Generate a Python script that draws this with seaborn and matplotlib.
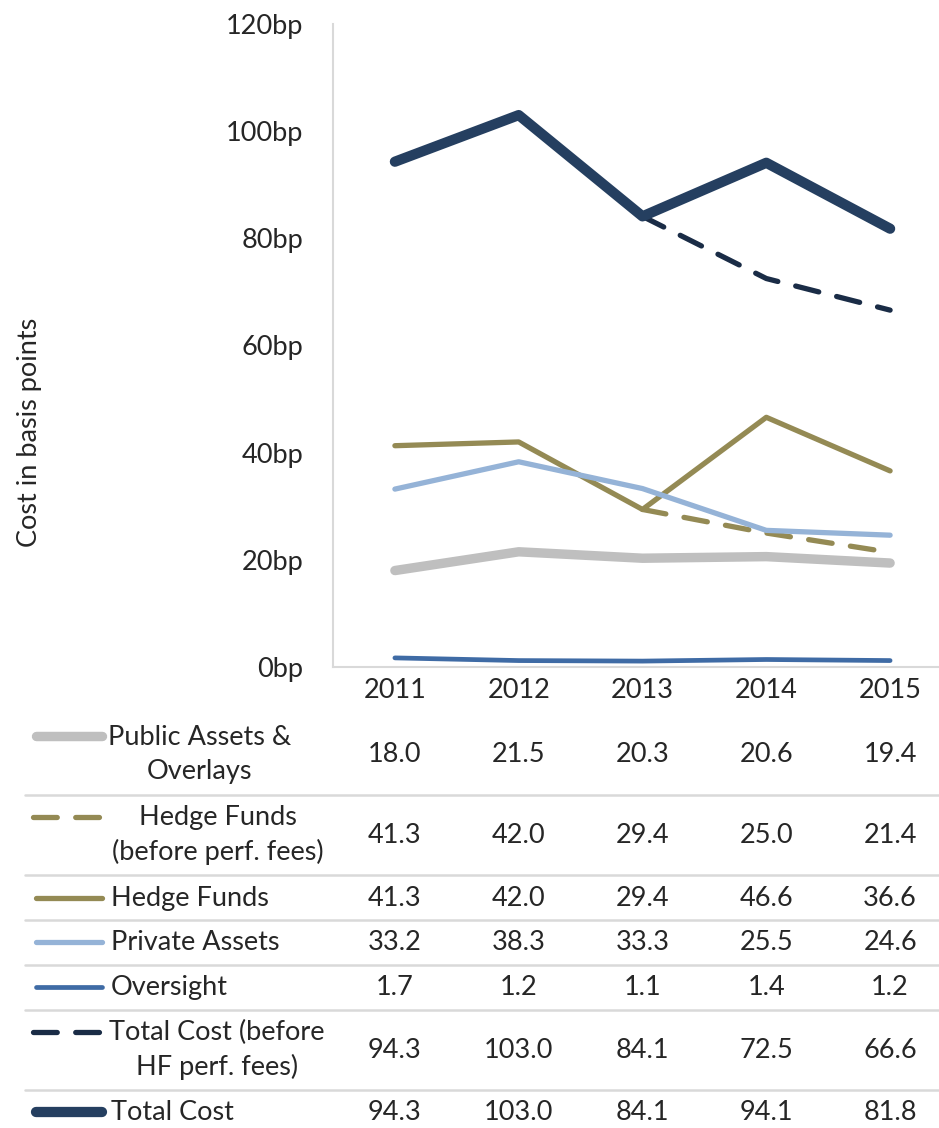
import numpy as np
import pandas as pd
import matplotlib
matplotlib.use("Agg")
import matplotlib.pyplot as plt
import matplotlib.transforms as mtransforms
import seaborn as sns

# data
years = [2011, 2012, 2013, 2014, 2015]
public_assets = [18.0, 21.5, 20.3, 20.6, 19.4]
hedge_before = [41.3, 42.0, 29.4, 25.0, 21.4]
hedge_funds = [41.3, 42.0, 29.4, 46.6, 36.6]
private_assets = [33.2, 38.3, 33.3, 25.5, 24.6]
oversight = [1.7, 1.2, 1.1, 1.4, 1.2]
total_before = [94.3, 103.0, 84.1, 72.5, 66.6]
total_cost = [94.3, 103.0, 84.1, 94.1, 81.8]

yticks = [0, 20, 40, 60, 80, 100, 120]

sns.set_style("white")
plt.rcParams["font.family"] = ["Lato", "DejaVu Sans"]
FS = 19.5

# series: name, values, color, width (pt), dashed, table label, label x, ha
series = [
    ("Public Assets & Overlays", public_assets, "#BFBFBF", 6.8, False, "Public Assets &\nOverlays", 200, "center"),
    ("Hedge Funds (before perf. fees)", hedge_before, "#948A54", 3.8, True, "Hedge Funds\n(before perf. fees)", 218, "center"),
    ("Hedge Funds", hedge_funds, "#948A54", 3.8, False, "Hedge Funds", 111, "left"),
    ("Private Assets", private_assets, "#95B3D7", 3.8, False, "Private Assets", 111, "left"),
    ("Oversight", oversight, "#3F6BA5", 3.4, False, "Oversight", 111, "left"),
    ("Total Cost (before HF perf. fees)", total_before, "#1A2C46", 3.8, True, "Total Cost (before\nHF perf. fees)", 217, "center"),
    ("Total Cost", total_cost, "#253F60", 7.4, False, "Total Cost", 111, "left"),
]

W, H = 939, 1128
fig = plt.figure(figsize=(W / 100, H / 100), dpi=100)
ax = fig.add_axes([333 / W, 461 / H, 619 / W, 643 / H])

for name, vals, color, lw, dashed, _, _, _ in series:
    df = pd.DataFrame({"year": years, "cost": vals})
    if dashed:
        # dashed series only differ from 2013 on
        df = df[df["year"] >= 2013]
        sns.lineplot(data=df, x="year", y="cost", ax=ax, color=color, linewidth=lw,
                     dashes=False, linestyle=(0, (4.5, 3.5)), dash_capstyle="round")
    else:
        sns.lineplot(data=df, x="year", y="cost", ax=ax, color=color, linewidth=lw,
                     solid_capstyle="round", solid_joinstyle="round")

ax.set_xlim(2010.5, 2015.5)
ax.set_ylim(0, 120)
ax.set_xticks(years)
ax.set_xticklabels([str(y) for y in years])
ax.set_yticks(yticks)
ax.set_yticklabels([f"{t}bp" for t in yticks])
ax.set_xlabel("")
ax.set_ylabel("")
sns.despine(ax=ax)
for s in ["left", "bottom"]:
    ax.spines[s].set_color("#D9D9D9")
    ax.spines[s].set_linewidth(1.5)
ax.tick_params(axis="y", length=6.5, width=1.5, color="#D9D9D9", pad=15, labelsize=FS)
ax.tick_params(axis="x", length=0, pad=8, labelsize=FS)

fig.text(30 / W, 1 - 432 / H, "Cost in basis points", rotation=90, ha="center", va="center", fontsize=FS)

# data table below the chart
tab = fig.add_axes([0, 0, 1, 428 / H])
tab.set_xlim(0, W)
tab.set_ylim(H, 700)
tab.axis("off")
blend = mtransforms.blended_transform_factory(ax.transData, tab.transData)

row_y = [754, 835, 898, 942, 987, 1050, 1112]
key_y = [736, 817, 898, 942, 987, 1032, 1112]
seps = [795, 875, 920, 965, 1010, 1090]

for yy in seps:
    tab.plot([25, W], [yy, yy], color="#D9D9D9", lw=1.8)

for (name, vals, color, lw, dashed, label, lx, ha), ry, ky in zip(series, row_y, key_y):
    if dashed:
        tab.plot([33, 105], [ky, ky], color=color, lw=lw, linestyle=(0, (4.5, 3.5)),
                 dash_capstyle="round")
    else:
        tab.plot([36, 102], [ky, ky], color=color, lw=lw, solid_capstyle="round")
    tab.text(lx, ry, label, ha=ha, va="center", multialignment="center",
             fontsize=FS, linespacing=1.45)
    for yr, v in zip(years, vals):
        tab.text(yr, ry, f"{v:.1f}", transform=blend, ha="center", va="center", fontsize=FS)

fig.savefig("out.png", dpi=100)
